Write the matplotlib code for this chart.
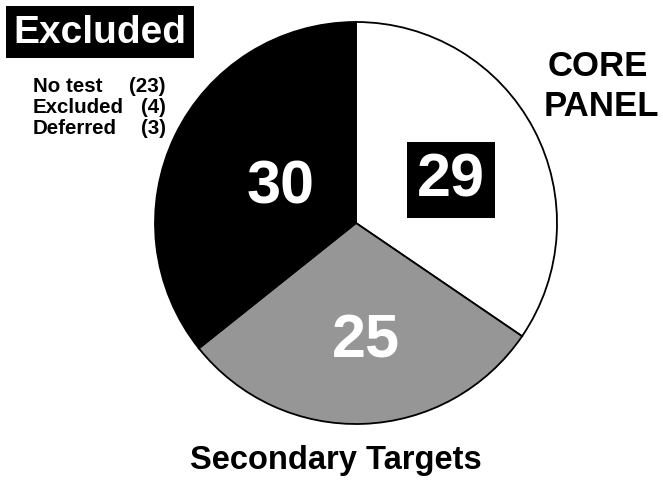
import matplotlib.pyplot as plt

# slice data, clockwise from 12 o'clock
labels = ['29', '25', '30']
counts = [29, 25, 30]
colors = ['white', '#969696', 'black']

# breakdown of the excluded group
excl_reasons = ['No test', 'Excluded', 'Deferred']
excl_counts = [23, 4, 3]

plt.rcParams['font.family'] = ['Liberation Sans', 'DejaVu Sans']
plt.rcParams['font.weight'] = 'bold'

W, H = 663, 485
fig = plt.figure(figsize=(W / 100, H / 100), dpi=100)
ax = fig.add_axes([0, 0, 1, 1])

cx, cy, r = 356, H - 224, 201
ax.pie(counts, colors=colors, startangle=90, counterclock=False,
       center=(cx, cy), radius=r, frame=True,
       wedgeprops=dict(edgecolor='black', linewidth=1.3))
ax.set_xlim(0, W)
ax.set_ylim(0, H)
ax.set_aspect('equal')
ax.axis('off')

# slice numbers
ax.text(451, H - 181, labels[0], color='white', fontsize=44, ha='center', va='center',
        bbox=dict(facecolor='black', edgecolor='none', boxstyle='square,pad=0.16'))
ax.text(366, H - 342, labels[1], color='white', fontsize=44, ha='center', va='center')
ax.text(281, H - 188, labels[2], color='white', fontsize=44, ha='center', va='center')

# "Excluded" header and breakdown
ax.text(100, H - 33, 'Excluded', color='white', fontsize=28, ha='center', va='center',
        bbox=dict(facecolor='black', edgecolor='none', boxstyle='square,pad=0.2'))
for i, (reason, n) in enumerate(zip(excl_reasons, excl_counts)):
    y = H - 86 - i * 21.5
    ax.text(33, y, reason, fontsize=14.8, ha='left', va='center')
    ax.text(166, y, f'({n})', fontsize=14.8, ha='right', va='center')

ax.text(598, H - 66, 'CORE', fontsize=25, ha='center', va='center')
ax.text(601, H - 106, 'PANEL', fontsize=25, ha='center', va='center')
ax.text(336, H - 461, 'Secondary Targets', fontsize=23.5, ha='center', va='center')

fig.savefig('out.png', dpi=100)
